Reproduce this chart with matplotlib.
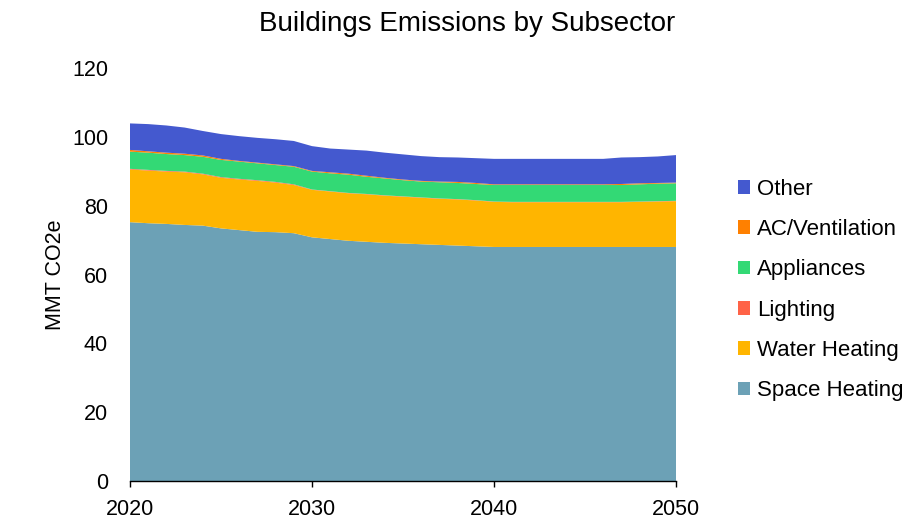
import matplotlib
matplotlib.use("Agg")
import matplotlib.pyplot as plt
import numpy as np

plt.rcParams['font.family'] = ['Liberation Sans', 'DejaVu Sans']

years = list(range(2020, 2051))

space_heating = [75.2, 74.9, 74.7, 74.4, 74.2, 73.4, 72.9, 72.4, 72.3, 72.0,
                 70.8, 70.3, 69.8, 69.5, 69.2, 69.0, 68.8, 68.6, 68.4, 68.2,
                 68.0, 68.0, 68.0, 68.0, 68.0, 68.0, 68.0, 68.0, 68.0, 68.0, 68.0]
water_heating = [15.3, 15.3, 15.2, 15.3, 14.9, 14.7, 14.7, 14.8, 14.4, 14.0,
                 13.8, 13.8, 13.8, 13.8, 13.7, 13.6, 13.5, 13.4, 13.4, 13.3,
                 13.1, 13.0, 13.0, 13.0, 13.0, 13.0, 13.0, 13.0, 13.1, 13.2, 13.3]
lighting = [0.2, 0.2, 0.2, 0.2, 0.2, 0.2, 0.2, 0.2, 0.2, 0.2,
            0.1, 0.1, 0.1, 0.1, 0.1, 0.1, 0.1, 0.1, 0.1, 0.1,
            0.1, 0.1, 0.1, 0.1, 0.1, 0.1, 0.1, 0.1, 0.1, 0.1, 0.1]
appliances = [5.0, 5.0, 4.9, 4.8, 4.9, 5.0, 5.0, 4.9, 4.9, 5.1,
              5.2, 5.2, 5.3, 5.0, 4.9, 4.7, 4.6, 4.7, 4.7, 4.7,
              4.8, 4.9, 4.9, 4.9, 4.9, 4.9, 4.9, 4.9, 5.0, 5.1, 5.1]
ac_ventilation = [0.5, 0.4, 0.4, 0.4, 0.4, 0.3, 0.2, 0.2, 0.2, 0.2,
                  0.2, 0.3, 0.3, 0.3, 0.2, 0.2, 0.2, 0.2, 0.3, 0.3,
                  0.2, 0.2, 0.2, 0.2, 0.2, 0.2, 0.2, 0.3, 0.3, 0.2, 0.2]
other = [7.7, 7.9, 7.9, 7.6, 7.1, 7.2, 7.2, 7.2, 7.3, 7.3,
         7.2, 6.9, 7.0, 7.3, 7.3, 7.3, 7.2, 7.1, 7.1, 7.2,
         7.4, 7.4, 7.4, 7.4, 7.4, 7.4, 7.4, 7.7, 7.6, 7.7, 8.0]

labels = ["Space Heating", "Water Heating", "Lighting", "Appliances",
          "AC/Ventilation", "Other"]
colors = ["#6CA1B6", "#FFB500", "#FF6347", "#33D975", "#FF8000", "#4459CF"]
x_ticks = [2020, 2030, 2040, 2050]
y_ticks = [0, 20, 40, 60, 80, 100, 120]

fig = plt.figure(figsize=(9.2, 5.2), dpi=100)
ax = fig.add_axes([130 / 920, 1 - 481 / 520, 546 / 920, 413 / 520])

ax.stackplot(years, space_heating, water_heating, lighting, appliances,
             ac_ventilation, other, colors=colors, labels=labels,
             linewidth=0)

ax.set_xlim(2020, 2050)
ax.set_ylim(0, 120)
ax.set_xticks(x_ticks)
ax.set_yticks(y_ticks)

for side in ("top", "right", "left"):
    ax.spines[side].set_visible(False)
ax.spines["bottom"].set_linewidth(1.0)
ax.spines["bottom"].set_color("black")

ax.tick_params(axis="x", direction="out", length=4, width=1, pad=9,
               labelsize=15.5, color="black")
ax.tick_params(axis="y", length=0, pad=15.8, labelsize=15.5)

ax.set_ylabel("MMT CO2e", fontsize=15.5)
ax.yaxis.set_label_coords(-0.118, 0.5)

fig.text(467 / 920, 1 - 24 / 520, "Buildings Emissions by Subsector",
         ha="center", va="center", fontsize=20)

handles, leg_labels = ax.get_legend_handles_labels()
fig.legend(handles[::-1], leg_labels[::-1], loc="center left",
           bbox_to_anchor=(738 / 920, 1 - 290 / 520),
           frameon=False, fontsize=16, handlelength=0.55,
           handleheight=0.55, handletextpad=0.3, labelspacing=0.87,
           borderpad=0, borderaxespad=0)

fig.savefig("out.png", dpi=100)
